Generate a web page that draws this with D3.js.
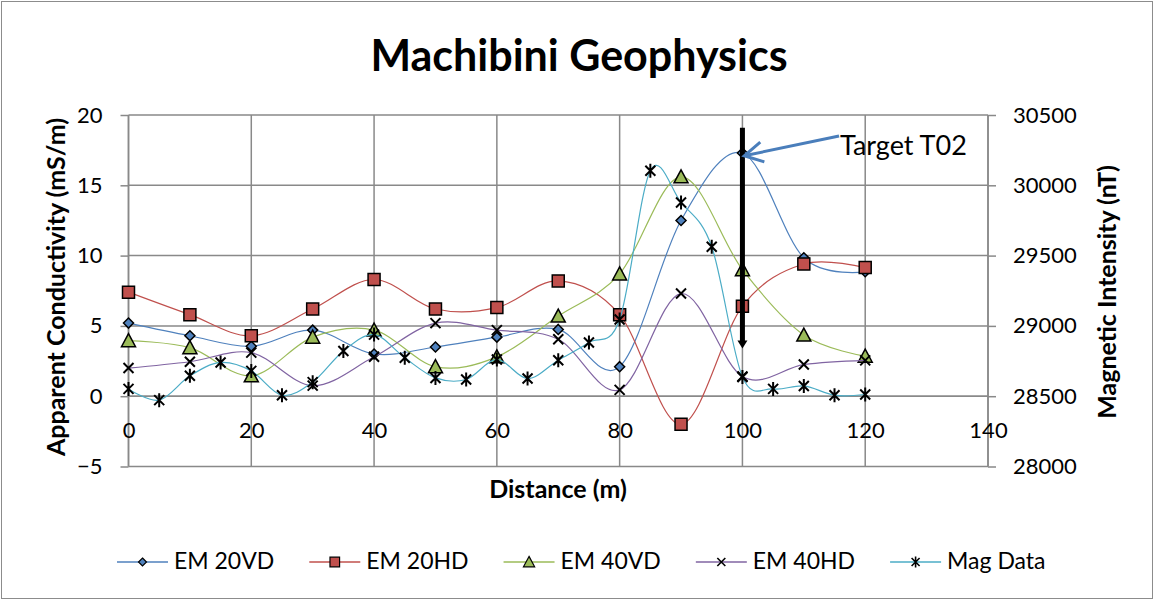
<!DOCTYPE html>
<html>
<head>
<meta charset="UTF-8">
<script src="https://cdn.jsdelivr.net/npm/d3@7"></script>
<style>
    body { margin: 0; background: #fff; }
    text { font-family: Lato, 'Open Sans', sans-serif; fill: #000; }
</style>
</head>
<body>
<svg id="chart" width="1155" height="601"></svg>
<script>
// distances (m)
var distEM = [0, 10, 20, 30, 40, 50, 60, 70, 80, 90, 100, 110, 120];
var distMag = [0, 5, 10, 15, 20, 25, 30, 35, 40, 45, 50, 55, 60, 65, 70, 75, 80, 85, 90, 95, 100, 105, 110, 115, 120];

// conductivity series (mS/m)
var em20vd = [5.2, 4.3, 3.55, 4.7, 3.0, 3.5, 4.2, 4.75, 2.1, 12.5, 17.3, 9.85, 8.85];
var em20hd = [7.4, 5.8, 4.3, 6.2, 8.3, 6.2, 6.3, 8.2, 5.8, -2.0, 6.4, 9.4, 9.15];
var em40vd = [3.95, 3.45, 1.45, 4.2, 4.7, 2.1, 2.8, 5.7, 8.7, 15.6, 9.0, 4.35, 2.85];
var em40hd = [2.0, 2.45, 3.1, 0.75, 2.8, 5.2, 4.7, 4.05, 0.45, 7.3, 1.4, 2.25, 2.55];

// magnetic intensity (nT)
var magData = [28552, 28472, 28645, 28740, 28680, 28507, 28600, 28822, 28938, 28773, 28630, 28619, 28761,
    28626, 28756, 28882, 29046, 30104, 29878, 29563, 28637, 28552, 28573, 28507, 28512];

// axis ticks
var xTicks = [0, 20, 40, 60, 80, 100, 120, 140];
var yLeftTicks = [-5, 0, 5, 10, 15, 20];
var yRightTicks = [28000, 28500, 29000, 29500, 30000, 30500];

// target annotation (distance, conductivity values)
var targetX = [100];
var targetRange = [19.1, 3.4];
var targetLabel = ["Target T02"];
var targetLabelPos = [115.9, 17.15];
var targetArrowEnd = [100.3, 17.1];

var svg = d3.select("#chart");

var x = d3.scaleLinear().domain([0, 140]).range([128.5, 988]);
var yL = d3.scaleLinear().domain([-5, 20]).range([466.5, 115]);
var yR = d3.scaleLinear().domain([28000, 30500]).range([466.5, 115]);

var gridColor = "#898989";

// chart border
svg.append("rect")
    .attr("x", 1.5).attr("y", 1.5)
    .attr("width", 1151).attr("height", 597)
    .attr("fill", "none")
    .attr("stroke", "#8c8c8c")
    .attr("stroke-width", 1);

// title
svg.append("text")
    .attr("x", 579).attr("y", 71)
    .attr("text-anchor", "middle")
    .style("font-size", "43px")
    .style("font-weight", "bold")
    .text("Machibini Geophysics");

// gridlines
var grid = svg.append("g");
grid.selectAll(".hg").data(yLeftTicks).enter().append("line")
    .attr("x1", x(0)).attr("x2", x(140))
    .attr("y1", function (d) { return yL(d); })
    .attr("y2", function (d) { return yL(d); })
    .attr("stroke", gridColor).attr("stroke-width", 1.5);
grid.selectAll(".vg").data(xTicks).enter().append("line")
    .attr("x1", function (d) { return x(d); })
    .attr("x2", function (d) { return x(d); })
    .attr("y1", yL(20)).attr("y2", yL(-5))
    .attr("stroke", gridColor).attr("stroke-width", 1.5);

// axes
var leftAxis = svg.append("g")
    .attr("transform", "translate(" + x(0) + ",0)")
    .call(d3.axisLeft(yL).tickValues(yLeftTicks).tickSize(8).tickPadding(18));
var rightAxis = svg.append("g")
    .attr("transform", "translate(" + x(140) + ",0)")
    .call(d3.axisRight(yR).tickValues(yRightTicks).tickSize(8).tickPadding(17).tickFormat(d3.format("d")));
var bottomAxis = svg.append("g")
    .attr("transform", "translate(0," + yL(0) + ")")
    .call(d3.axisBottom(x).tickValues(xTicks).tickSize(0).tickPadding(26));

[leftAxis, rightAxis, bottomAxis].forEach(function (a) {
    a.selectAll("path, line").attr("stroke", gridColor).attr("stroke-width", 1.5);
    a.selectAll("text").style("font-size", "22px").style("font-family", "Lato, sans-serif").attr("fill", "#000");
});
bottomAxis.select(".domain").attr("d", "M" + x(0) + ",0H" + x(140));
leftAxis.select(".domain").attr("d", "M0," + yL(20) + "V" + yL(-5));
rightAxis.select(".domain").attr("d", "M0," + yL(20) + "V" + yL(-5));

// axis titles
svg.append("text")
    .attr("transform", "translate(65," + 287 + ") rotate(-90)")
    .attr("text-anchor", "middle")
    .style("font-size", "25px").style("font-weight", "bold")
    .text("Apparent Conductivity (mS/m)");
svg.append("text")
    .attr("transform", "translate(1116," + 292 + ") rotate(-90)")
    .attr("text-anchor", "middle")
    .style("font-size", "25px").style("font-weight", "bold")
    .text("Magnetic Intensity (nT)");
svg.append("text")
    .attr("x", 558).attr("y", 498)
    .attr("text-anchor", "middle")
    .style("font-size", "25px").style("font-weight", "bold")
    .text("Distance (m)");

// marker shapes
function markerPath(type) {
    if (type === "diamond") return "M0,-5L5,0L0,5L-5,0Z";
    if (type === "square") return "M-6,-6H6V6H-6Z";
    if (type === "triangle") return "M0,-7L7,6H-7Z";
    if (type === "x") return "M-5,-5L5,5M-5,5L5,-5";
    if (type === "star") return "M-5,-5L5,5M-5,5L5,-5M0,-7V7";
}

var series = [
    { name: "EM 20VD", xs: distEM, ys: em20vd, color: "#4F81BD", marker: "diamond", fill: "#4F81BD", axis: yL },
    { name: "EM 20HD", xs: distEM, ys: em20hd, color: "#C0504D", marker: "square", fill: "#C0504D", axis: yL },
    { name: "EM 40VD", xs: distEM, ys: em40vd, color: "#9BBB59", marker: "triangle", fill: "#9BBB59", axis: yL },
    { name: "EM 40HD", xs: distEM, ys: em40hd, color: "#8064A2", marker: "x", fill: "none", axis: yL },
    { name: "Mag Data", xs: distMag, ys: magData, color: "#4BACC6", marker: "star", fill: "none", axis: yR }
];

var line = d3.line().curve(d3.curveCatmullRom.alpha(0));

series.forEach(function (s) {
    var pts = s.xs.map(function (d, i) { return [x(d), s.axis(s.ys[i])]; });
    var g = svg.append("g");
    g.append("path")
        .attr("d", line(pts))
        .attr("fill", "none")
        .attr("stroke", s.color)
        .attr("stroke-width", 1.2);
    g.selectAll("path.m").data(pts).enter().append("path")
        .attr("class", "m")
        .attr("transform", function (p) { return "translate(" + p[0] + "," + p[1] + ")"; })
        .attr("d", markerPath(s.marker))
        .attr("fill", s.fill)
        .attr("stroke", "#000")
        .attr("stroke-width", s.fill === "none" ? 2 : 1.5);
});

// target annotation
var tx = x(targetX[0]);
var yTop = yL(targetRange[0]), yBot = yL(targetRange[1]);
svg.append("line")
    .attr("x1", tx).attr("x2", tx)
    .attr("y1", yTop).attr("y2", yBot - 6)
    .attr("stroke", "#000").attr("stroke-width", 5);
svg.append("path")
    .attr("d", "M" + (tx - 5) + "," + (yBot - 8) + "L" + (tx + 5) + "," + (yBot - 8) + "L" + tx + "," + yBot + "Z")
    .attr("fill", "#000");

var lx = x(targetLabelPos[0]), ly = yL(targetLabelPos[1]);
var ax = x(targetArrowEnd[0]), ay = yL(targetArrowEnd[1]);
svg.append("line")
    .attr("x1", lx - 1).attr("y1", ly - 19)
    .attr("x2", ax).attr("y2", ay)
    .attr("stroke", "#4A7EBB").attr("stroke-width", 3);
var ang = Math.atan2((ly - 19) - ay, (lx - 1) - ax);
var wing = 21, spread = 0.5;
svg.append("path")
    .attr("d", "M" + (ax + wing * Math.cos(ang - spread)) + "," + (ay + wing * Math.sin(ang - spread)) +
        "L" + ax + "," + ay +
        "L" + (ax + wing * Math.cos(ang + spread)) + "," + (ay + wing * Math.sin(ang + spread)))
    .attr("fill", "none")
    .attr("stroke", "#4A7EBB").attr("stroke-width", 3);
svg.append("text")
    .attr("x", lx).attr("y", ly)
    .style("font-size", "27px")
    .text(targetLabel[0]);

// legend
var legend = svg.append("g").attr("transform", "translate(0,562)");
var lxPos = 117;
series.forEach(function (s) {
    var g = legend.append("g").attr("transform", "translate(" + lxPos + ",0)");
    g.append("line").attr("x1", 0).attr("x2", 51).attr("y1", 0).attr("y2", 0)
        .attr("stroke", s.color).attr("stroke-width", 1.3);
    g.append("path")
        .attr("transform", "translate(25.5,0) scale(0.8)")
        .attr("d", markerPath(s.marker))
        .attr("fill", s.fill)
        .attr("stroke", "#000")
        .attr("stroke-width", s.fill === "none" ? 2 : 1.5);
    var t = g.append("text").attr("x", 57).attr("y", 7)
        .style("font-size", "23px")
        .text(s.name);
    lxPos += 57 + t.node().getComputedTextLength() + 35;
});
</script>
</body>
</html>
